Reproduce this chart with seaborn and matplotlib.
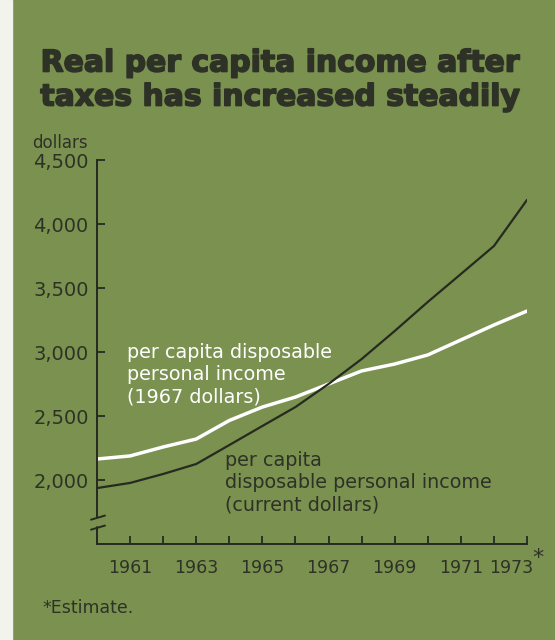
import numpy as np
import pandas as pd
import matplotlib
matplotlib.use("Agg")
import matplotlib.pyplot as plt
import seaborn as sns
from matplotlib.transforms import ScaledTranslation
from matplotlib.patches import Rectangle
import matplotlib.patheffects as pe

# ---- data ----
years = list(range(1960, 1974))
current_dollars = [1937, 1977, 2047, 2125, 2273, 2422, 2570, 2750, 2945, 3164, 3391, 3609, 3828, 4188]
dollars_1967 = [2164, 2188, 2258, 2320, 2465, 2570, 2648, 2750, 2852, 2906, 2977, 3094, 3211, 3320]
y_ticks = [2000, 2500, 3000, 3500, 4000, 4500]
y_tick_labels = ["2,000", "2,500", "3,000", "3,500", "4,000", "4,500"]
x_ticks = list(range(1961, 1974))
x_tick_labels = [str(y) if y % 2 else "" for y in x_ticks]

title_text = "Real per capita income after\ntaxes has increased steadily"
label_1967 = "per capita disposable\npersonal income\n(1967 dollars)"
label_current = "per capita\ndisposable personal income\n(current dollars)"

GREEN = "#7a9150"
DARK = "#262a1f"
TEXT = "#2e3226"

sns.set_theme(style="white")
plt.rcParams["font.family"] = ["DejaVu Sans"]

W, H = 555, 640
fig = plt.figure(figsize=(W / 100, H / 100), dpi=100, facecolor=GREEN)
fig.patches.append(Rectangle((0, 0), 12 / W, 1, transform=fig.transFigure,
                             color="#f3f3ee", zorder=0))

ax = fig.add_axes([97 / W, 96 / H, 430 / W, 384 / H])
ax.set_facecolor("none")

sns.lineplot(x=years, y=dollars_1967, color="white", lw=2.5, ax=ax)
sns.lineplot(x=years, y=current_dollars, color=DARK, lw=1.6, ax=ax)

ax.set_xlim(1960, 1973)
ax.set_ylim(1500, 4500)
for s in ["top", "right"]:
    ax.spines[s].set_visible(False)
for s in ["left", "bottom"]:
    ax.spines[s].set_color(DARK)
    ax.spines[s].set_linewidth(1.4)
ax.spines["left"].set_bounds(1711, 4500)

# lower piece of broken y-axis and break marks
tr = ax.get_yaxis_transform()
ax.plot([0, 0], [1500, 1633], color=DARK, lw=1.4, transform=tr, clip_on=False)
ax.plot([-6 / 430, 8 / 430], [1690, 1722], color=DARK, lw=1.4, transform=tr, clip_on=False)
ax.plot([-6 / 430, 8 / 430], [1612, 1644], color=DARK, lw=1.4, transform=tr, clip_on=False)

ax.set_yticks(y_ticks)
ax.set_yticklabels(y_tick_labels)
ax.set_xticks(x_ticks)
ax.set_xticklabels(x_tick_labels)
ax.tick_params(axis="both", direction="in", length=5.5, width=1.3, color=DARK,
               labelcolor=TEXT, labelsize=14, left=True, bottom=True)
ax.tick_params(axis="y", pad=6)
ax.tick_params(axis="x", pad=11, labelsize=12.5)
ax.set_xlabel("")
ax.set_ylabel("")

# shift the 1973 label left to make room for asterisk
offset = ScaledTranslation(-16 / 100, 0, fig.dpi_scale_trans)
last = ax.get_xticklabels()[-1]
last.set_transform(last.get_transform() + offset)

def px(x, y):
    return x / W, 1 - y / H

fig.text(*px(280, 80), title_text, ha="center", va="center", fontsize=21.5,
         fontweight="bold", color=TEXT, linespacing=1.22,
         path_effects=[pe.withStroke(linewidth=1.2, foreground=TEXT)])
fig.text(*px(32, 143), "dollars", ha="left", va="center", fontsize=12, color=TEXT)
fig.text(*px(127, 375), label_1967, ha="left", va="center", fontsize=13.8,
         color="white", linespacing=1.22)
fig.text(*px(225, 483), label_current, ha="left", va="center", fontsize=13.8,
         color=TEXT, linespacing=1.22)
fig.text(*px(532, 558), "*", ha="left", va="center", fontsize=16, color=TEXT)
fig.text(*px(42, 608), "*Estimate.", ha="left", va="center", fontsize=12.5, color=TEXT)

fig.savefig("out.png", dpi=100, facecolor=GREEN)
